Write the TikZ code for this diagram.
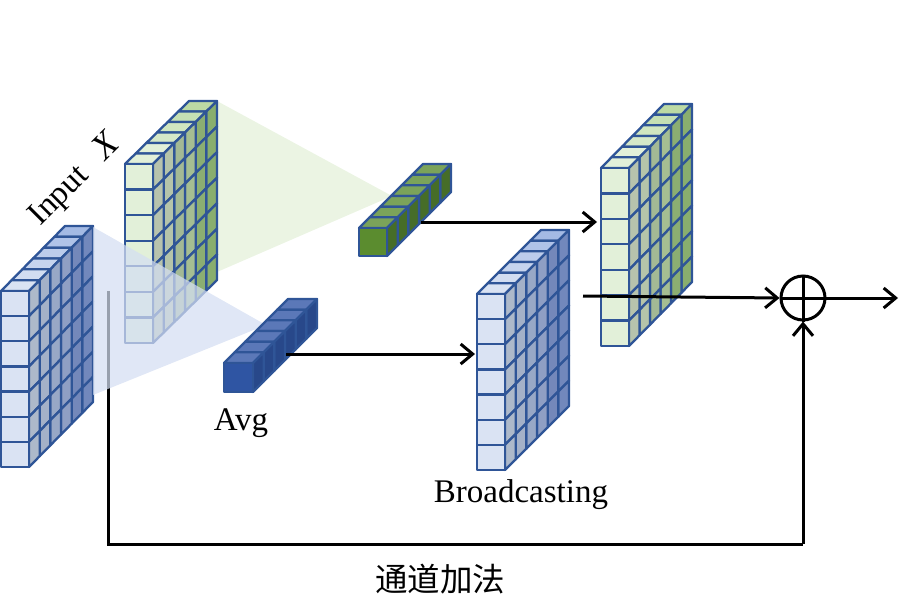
\documentclass[tikz,border=0pt]{standalone}
\usepackage{fontspec}
\setmainfont{Liberation Serif}
\newfontfamily\cjkfont{Noto Sans CJK SC}
\usetikzlibrary{arrows.meta}
\definecolor{edgeblue}{HTML}{2F5597}
\definecolor{greenproj}{HTML}{EBF4E3}
\definecolor{blueproj}{HTML}{D4DEF2}
\definecolor{bf}{HTML}{DAE3F3}
\definecolor{bt1}{HTML}{DAE3F3}\definecolor{bt2}{HTML}{D2DDF1}\definecolor{bt3}{HTML}{C6D4EE}\definecolor{bt4}{HTML}{BCCCEB}\definecolor{bt5}{HTML}{B0C3E8}\definecolor{bt6}{HTML}{A4BAE4}
\definecolor{bs1}{HTML}{ADB9CA}\definecolor{bs2}{HTML}{A4B1C8}\definecolor{bs3}{HTML}{98A8C6}\definecolor{bs4}{HTML}{8F9FC4}\definecolor{bs5}{HTML}{7488BA}\definecolor{bs6}{HTML}{7288BC}
\definecolor{gf}{HTML}{E2F0D9}
\definecolor{gt1}{HTML}{E2F0D9}\definecolor{gt2}{HTML}{E2F0D9}\definecolor{gt3}{HTML}{D5E8C8}\definecolor{gt4}{HTML}{D0E6C0}\definecolor{gt5}{HTML}{C5E0B4}\definecolor{gt6}{HTML}{BCDAA4}
\definecolor{gs1}{HTML}{B7C3AD}\definecolor{gs2}{HTML}{B5C4AA}\definecolor{gs3}{HTML}{A3B995}\definecolor{gs4}{HTML}{A5BE92}\definecolor{gs5}{HTML}{8BAE72}\definecolor{gs6}{HTML}{89AE6E}
\definecolor{df}{HTML}{5B8C2F}
\definecolor{dt1}{HTML}{7BA35A}\definecolor{dt2}{HTML}{7BA35A}\definecolor{dt3}{HTML}{7BA35A}\definecolor{dt4}{HTML}{7BA35A}\definecolor{dt5}{HTML}{7BA35A}\definecolor{dt6}{HTML}{7BA35A}
\definecolor{ds1}{HTML}{466D28}\definecolor{ds2}{HTML}{466D28}\definecolor{ds3}{HTML}{466D28}\definecolor{ds4}{HTML}{466D28}\definecolor{ds5}{HTML}{466D28}\definecolor{ds6}{HTML}{466D28}
\definecolor{nf}{HTML}{2F55A3}
\definecolor{nt1}{HTML}{5B78B8}\definecolor{nt2}{HTML}{5B78B8}\definecolor{nt3}{HTML}{5B78B8}\definecolor{nt4}{HTML}{5B78B8}\definecolor{nt5}{HTML}{5B78B8}\definecolor{nt6}{HTML}{5B78B8}
\definecolor{ns1}{HTML}{28488A}\definecolor{ns2}{HTML}{28488A}\definecolor{ns3}{HTML}{28488A}\definecolor{ns4}{HTML}{28488A}\definecolor{ns5}{HTML}{28488A}\definecolor{ns6}{HTML}{28488A}
% #1 x, #2 y of front top-left, #3 width, #4 height, #5 rows, #6 depth dx, #7 depth dy (positive = up), #8 colour prefix
\newcommand{\cubeblock}[8]{%
  \foreach \c in {6,5,...,1}{%
    \pgfmathsetmacro{\xa}{#1+(\c-1)*#6/6}%
    \pgfmathsetmacro{\ya}{#2-(\c-1)*#7/6}%
    \pgfmathsetmacro{\xb}{#1+\c*#6/6}%
    \pgfmathsetmacro{\yb}{#2-\c*#7/6}%
    \draw[cubeline,fill=#8t\c] (\xa,\ya) -- (\xb,\yb) -- (\xb+#3,\yb) -- (\xa+#3,\ya) -- cycle;
    \foreach \r in {1,...,#5}{%
      \pgfmathsetmacro{\ta}{(\r-1)*#4/#5}%
      \pgfmathsetmacro{\tb}{\r*#4/#5}%
      \draw[cubeline,fill=#8s\c] (\xa+#3,\ya+\ta) -- (\xb+#3,\yb+\ta) -- (\xb+#3,\yb+\tb) -- (\xa+#3,\ya+\tb) -- cycle;
    }%
  }%
  \foreach \r in {1,...,#5}{%
    \pgfmathsetmacro{\ta}{(\r-1)*#4/#5}%
    \draw[cubeline,fill=#8f] (#1,#2+\ta) rectangle ++(#3,#4/#5);
  }%
}
\tikzset{
  cubeline/.style={draw=edgeblue,line width=2.3pt,line join=round},
  link/.style={draw=black,line width=3pt},
  arrowlink/.style={link,-{Straight Barb[length=12pt,width=20pt,line width=3pt]}},
  label/.style={font=\fontsize{33}{38}\selectfont,inner sep=0pt,text=black},
}
\begin{document}
\begin{tikzpicture}[x=1pt,y=-1pt]
\useasboundingbox (0,0) rectangle (899,608);
% green projection
\fill[fill=greenproj] (217,101) -- (392,196) -- (217,272) -- cycle;
\cubeblock{125}{164}{28}{179}{7}{64}{63}{g}
% blue block and skip line start
\cubeblock{1}{291}{28}{176}{7}{64}{65}{b}
\coordinate (skipstart) at (108,291);
\coordinate (skipcorner) at (108,544);
\node[circle,draw=black,line width=3pt,minimum size=44pt,inner sep=0pt] (sum) at (803,298) {};
\coordinate (skipturn) at (sum.south |- skipcorner);
\draw[link] (skipstart) -- (skipcorner) -- (skipturn);
\draw[arrowlink] (skipturn) -- (sum.south);
% blue projection (translucent, over the green block and line)
\fill[fill=blueproj,fill opacity=0.72] (93,227) -- (266,325) -- (93,395) -- cycle;
% pooled blocks
\cubeblock{359}{228}{28}{28}{1}{64}{64}{d}
\cubeblock{224}{363}{29}{29}{1}{64}{64}{n}
% broadcast block
\cubeblock{477}{294}{28}{176}{7}{64}{64}{b}
% green result
\cubeblock{601}{168}{28}{178}{7}{63}{64}{g}
% connectors
\coordinate (greenout) at (421,222);
\coordinate (greenin) at (597,222);
\coordinate (blueout) at (286,354);
\coordinate (bluein) at (475,354);
\coordinate (mergestart) at (583,296);
\coordinate (outend) at (898,298);
\draw[arrowlink] (greenout) -- (greenin);
\draw[arrowlink] (blueout) -- (bluein);
\draw[arrowlink] (mergestart) -- (sum.west);
\draw[arrowlink] (sum.east) -- (outend);
\draw[link] (sum.north) -- (sum.south);
\draw[link] (sum.west) -- (sum.east);
% labels
\node[label,rotate=45] (inputlabel) at (75,180) {Input\ \ \,{\fontsize{36}{38}\selectfont\textit{X}}};
\node[label,anchor=base] (avglabel) at (241,430) {Avg};
\node[label,anchor=base] (broadlabel) at (521,502) {Broadcasting};
\node[label,font=\fontsize{32.5}{38}\selectfont\cjkfont] (addlabel) at (440,579) {通道加法};
\end{tikzpicture}
\end{document}
